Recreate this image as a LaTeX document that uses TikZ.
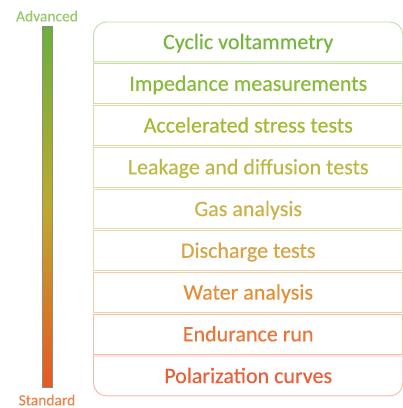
\documentclass[tikz,border=0pt]{standalone}
\usepackage{fontspec}
\setmainfont{Carlito}
\newfontfamily\rowfont{Carlito}[FakeBold=0.4]
\definecolor{ca}{RGB}{118,182,62}
\definecolor{cb}{RGB}{138,186,58}
\definecolor{cc}{RGB}{162,186,50}
\definecolor{cd}{RGB}{190,184,70}
\definecolor{ce}{RGB}{205,176,72}
\definecolor{cf}{RGB}{216,164,70}
\definecolor{cg}{RGB}{228,143,55}
\definecolor{ch}{RGB}{232,118,58}
\definecolor{ci}{RGB}{232,96,58}
\definecolor{bartop}{RGB}{106,176,60}
\definecolor{barmid}{RGB}{190,170,45}
\definecolor{barbot}{RGB}{232,88,32}
\begin{document}
\begin{tikzpicture}[x=1pt,y=-1pt,
  rowbox/.style={minimum width=309pt,minimum height=39.5pt,inner sep=0pt,anchor=north west,text height=14.2pt,text depth=0pt,font=\rowfont\fontsize{22}{24}\selectfont},
  rowline/.style={line width=0.9pt},
  endlabel/.style={font=\rowfont\fontsize{15.5}{18}\selectfont}]
\useasboundingbox (0,0) rectangle (403,408);
% gradient bar
\shade[top color=bartop,bottom color=barbot,middle color=barmid] (42,26) rectangle (52,387);
\draw[line width=0.4pt,black!45] (42,26) rectangle (52,387);
\node[endlabel,text=ca!75] (adv) at (47,16) {Advanced};
\node[endlabel,text=ch!90] (std) at (47,400) {Standard};
% rows
\node[rowbox,text=ca,text depth=-8pt] (r0) at (93.5,22) {Cyclic voltammetry};
\foreach \i/\c/\t in {1/cb/Impedance measurements,2/cc/Accelerated stress tests,3/cd/Leakage and diffusion tests,4/ce/Gas analysis,5/cf/Discharge tests,6/cg/Water analysis,7/ch/Endurance run,8/ci/Polarization curves}{
  \node[rowbox,text=\c] (r\i) at (93.5,22+\i*41.75) {\t};
}
\foreach \i/\c in {1/cb,2/cc,3/cd,4/ce,5/cf,6/cg,7/ch}{
  \draw[rowline,\c!45] (r\i.north west) rectangle (r\i.south east);
}
\draw[rowline,ca!45] (r0.south west) [rounded corners=13pt] -- (r0.north west) -- (r0.north east) [sharp corners] -- (r0.south east) -- cycle;
\draw[rowline,ci!45] (r8.north west) [rounded corners=13pt] -- (r8.south west) -- (r8.south east) [sharp corners] -- (r8.north east) -- cycle;
\end{tikzpicture}
\end{document}
